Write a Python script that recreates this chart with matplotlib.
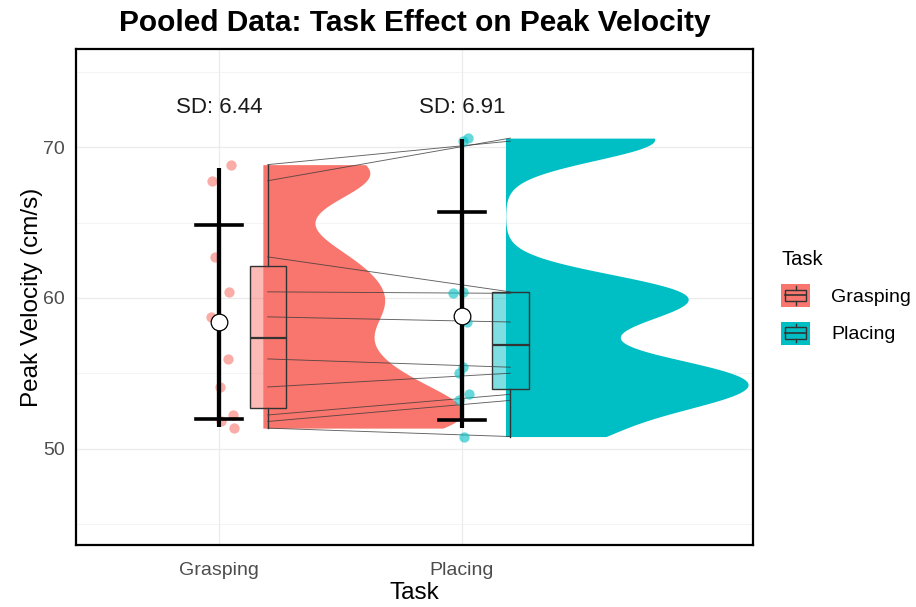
import numpy as np
import matplotlib
matplotlib.use("Agg")
import matplotlib.pyplot as plt
from matplotlib.patches import Rectangle, Patch
from matplotlib.lines import Line2D
from matplotlib.legend_handler import HandlerBase

plt.rcParams['font.family'] = ['Liberation Sans', 'DejaVu Sans']

# peak velocity (cm/s) per participant, same order in both tasks
tasks = ["Grasping", "Placing"]
grasping = np.array([68.84, 67.77, 62.72, 60.40, 58.74, 55.95, 54.09, 52.23, 51.80, 51.36])
placing = np.array([70.40, 70.60, 60.40, 60.30, 58.40, 55.40, 55.00, 53.60, 53.20, 50.80])
sd_labels = [6.44, 6.91]

# horizontal jitter used for the raw points
jitter_g = np.array([0.049, -0.029, -0.016, 0.041, -0.033, 0.037, 0.004, 0.058, 0.008, 0.062])
jitter_p = np.array([0.004, 0.025, 0.004, -0.037, 0.021, 0.004, -0.012, 0.029, -0.012, 0.008])

colors = ["#F8766D", "#00BFC4"]
groups = [grasping, placing]
jitters = [jitter_g, jitter_p]


def kde_trimmed(v, adjust=0.5, n=512):
    # gaussian density over the data range, bandwidth = bw.nrd0 * adjust
    q1, q3 = np.percentile(v, [25, 75])
    lo = min(np.std(v, ddof=1), (q3 - q1) / 1.34)
    bw = 0.9 * lo * len(v) ** -0.2 * adjust
    y = np.linspace(v.min(), v.max(), n)
    d = np.exp(-0.5 * ((y[:, None] - v[None, :]) / bw) ** 2).sum(axis=1)
    d = d / (len(v) * bw * np.sqrt(2 * np.pi))
    return y, d


fig = plt.figure(figsize=(9.16, 6.07), dpi=100)
ax = fig.add_axes([0.083, 0.102, 0.739, 0.817])

dens = [kde_trimmed(g) for g in groups]
dmax = max(d.max() for _, d in dens)

for i, (vals, col) in enumerate(zip(groups, colors)):
    x0 = i + 1
    # half violin
    y, d = dens[i]
    ax.fill_betweenx(y, x0 + 0.18, x0 + 0.18 + d / dmax * 1.0,
                     color=col, lw=0, zorder=2)
    # boxplot
    ax.boxplot(vals, positions=[x0 + 0.2], widths=0.15, patch_artist=True,
               showfliers=False, showcaps=False, manage_ticks=False,
               boxprops=dict(facecolor=matplotlib.colors.to_rgba(col, 0.5),
                             edgecolor="#333333", lw=1.0),
               medianprops=dict(color="#333333", lw=1.6),
               whiskerprops=dict(color="#333333", lw=1.0), zorder=3)

# lines linking each participant across tasks
for a, b in zip(grasping, placing):
    ax.plot([1.2, 2.2], [a, b], color="#3a3a3a", lw=0.65, alpha=0.8, zorder=4)

for i, (vals, col) in enumerate(zip(groups, colors)):
    x0 = i + 1
    ax.scatter(x0 + jitters[i], vals, s=55, color=col, alpha=0.6, lw=0, zorder=5)
    m = vals.mean()
    sd = sd_labels[i]
    lo, hi = np.percentile(vals, [2.5, 97.5])
    ax.plot([x0, x0], [lo, hi], color="black", lw=3.0, zorder=6, solid_capstyle="butt")
    ax.plot([x0, x0], [m - sd, m + sd], color="black", lw=3.0, zorder=6, solid_capstyle="butt")
    for yc in (m - sd, m + sd):
        ax.plot([x0 - 0.095, x0 + 0.095], [yc, yc], color="black", lw=2.6, zorder=6)
    ax.plot(x0, m, "o", ms=12, mfc="white", mec="black", mew=0.9, zorder=7)
    ax.text(x0, 72.6, f"SD: {sd:.2f}", ha="center", va="center",
            fontsize=16, color="#1a1a1a", zorder=8)

ax.set_xlim(0.41, 3.2)
ax.set_ylim(43.6, 76.5)
ax.set_xticks([1, 2])
ax.set_xticklabels(tasks)
ax.set_yticks([50, 60, 70])
ax.set_yticks([45, 55, 65, 75], minor=True)
ax.tick_params(axis="both", which="both", length=0, labelsize=14,
               labelcolor="#4D4D4D")
ax.tick_params(axis="y", pad=8)
ax.tick_params(axis="x", pad=12)
ax.grid(True, which="major", color="#EBEBEB", lw=0.9, zorder=0)
ax.grid(True, which="minor", axis="y", color="#F2F2F2", lw=0.6, zorder=0)
ax.set_axisbelow(True)
for s in ax.spines.values():
    s.set_color("black")
    s.set_linewidth(1.6)

ax.set_xlabel("Task", fontsize=17.5, labelpad=2)
ax.set_ylabel("Peak Velocity (cm/s)", fontsize=17.5, labelpad=0)
ax.set_title("Pooled Data: Task Effect on Peak Velocity", fontsize=21.5,
             fontweight="bold", pad=13)


class BoxKey(HandlerBase):
    def create_artists(self, legend, orig_handle, xd, yd, w, h, fontsize, trans):
        x, y = -xd, -yd
        col = orig_handle.get_facecolor()
        ec = "#333333"
        arts = [Rectangle((x, y), w, h, facecolor=col, edgecolor="none", transform=trans)]
        arts.append(Rectangle((x + 0.125 * w, y + 0.25 * h), 0.75 * w, 0.5 * h,
                              facecolor="none", edgecolor=ec, lw=1.0, transform=trans))
        arts.append(Line2D([x + 0.125 * w, x + 0.875 * w], [y + 0.5 * h] * 2, color=ec, lw=1.2, transform=trans))
        arts.append(Line2D([x + 0.5 * w] * 2, [y + 0.75 * h, y + 0.9 * h], color=ec, lw=1.0, transform=trans))
        arts.append(Line2D([x + 0.5 * w] * 2, [y + 0.1 * h, y + 0.25 * h], color=ec, lw=1.0, transform=trans))
        return arts


handles = [Patch(facecolor=c) for c in colors]
leg = fig.legend(handles, tasks, title="Task", loc="center left",
                 bbox_to_anchor=(0.834, 0.51), frameon=False,
                 handler_map={Patch: BoxKey()}, handlelength=1.45, handleheight=1.45,
                 fontsize=14, title_fontsize=14.5, labelspacing=0.75, handletextpad=1.1)
leg._legend_box.align = "left"

fig.savefig("out.png", dpi=100)
